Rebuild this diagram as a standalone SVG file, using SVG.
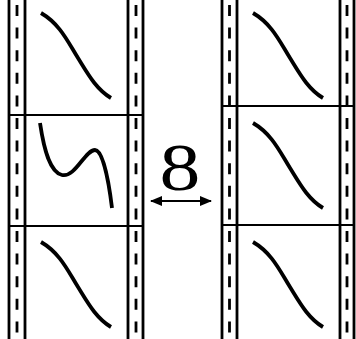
<svg xmlns="http://www.w3.org/2000/svg" width="356" height="339" viewBox="0 0 356 339">
<defs>
<style>
.frame{stroke:#000;stroke-width:2.8;fill:none}
.hline{stroke:#000;stroke-width:2;fill:none}
.dash{stroke:#000;stroke-width:2.8;fill:none;stroke-dasharray:11 11.6}
.curve{stroke:#000;stroke-width:3.8;fill:none;stroke-linecap:butt}
.arrow{stroke:#000;stroke-width:2;fill:none}
</style>
<path id="sCurve" d="M41,13 C60,24 68,42 78,58 S96,89 111,98"/>
<path id="wCurve" d="M40,123 C44,150 50,172 62,175 C75,178 85,150 95,150 C102,150 108,175 112,208"/>
<marker id="ah" markerWidth="12" markerHeight="10" refX="11" refY="5" orient="auto-start-reverse" markerUnits="userSpaceOnUse">
<path d="M0,0 L12,5 L0,10 Z" fill="#000"/>
</marker>
</defs>
<rect width="356" height="339" fill="#fff"/>
<g id="left-strip">
<line class="frame" x1="9" y1="0" x2="9" y2="339"/>
<line class="dash" x1="17" y1="5" x2="17" y2="339"/>
<line class="frame" x1="25" y1="0" x2="25" y2="339"/>
<line class="frame" x1="128" y1="0" x2="128" y2="339"/>
<line class="dash" x1="136" y1="5" x2="136" y2="339"/>
<line class="frame" x1="143" y1="0" x2="143" y2="339"/>
<line class="hline" x1="9" y1="115" x2="143" y2="115"/>
<line class="hline" x1="9" y1="226" x2="143" y2="226"/>
</g>
<g id="left-frame-1"><use href="#sCurve" class="curve"/></g>
<g id="left-frame-2"><use href="#wCurve" class="curve"/></g>
<g id="left-frame-3"><use href="#sCurve" class="curve" transform="translate(0,229)"/></g>
<g id="right-strip">
<line class="frame" x1="222" y1="0" x2="222" y2="339"/>
<line class="dash" x1="229.5" y1="5" x2="229.5" y2="339"/>
<line class="frame" x1="237" y1="0" x2="237" y2="339"/>
<line class="frame" x1="340" y1="0" x2="340" y2="339"/>
<line class="dash" x1="347" y1="5" x2="347" y2="339"/>
<line class="frame" x1="354" y1="0" x2="354" y2="339"/>
<line class="hline" x1="222" y1="106" x2="354" y2="106"/>
<line class="hline" x1="222" y1="225" x2="354" y2="225"/>
</g>
<g id="right-frame-1"><use href="#sCurve" class="curve" transform="translate(212,0)"/></g>
<g id="right-frame-2"><use href="#sCurve" class="curve" transform="translate(212,110)"/></g>
<g id="right-frame-3"><use href="#sCurve" class="curve" transform="translate(212,229)"/></g>
<g id="label">
<text transform="translate(180,190) scale(1.2,1)" font-family="Liberation Serif, serif" font-size="68" text-anchor="middle">8</text>
</g>
<g id="connectors">
<line class="arrow" x1="151" y1="201" x2="211" y2="201" marker-start="url(#ah)" marker-end="url(#ah)"/>
</g>
</svg>
